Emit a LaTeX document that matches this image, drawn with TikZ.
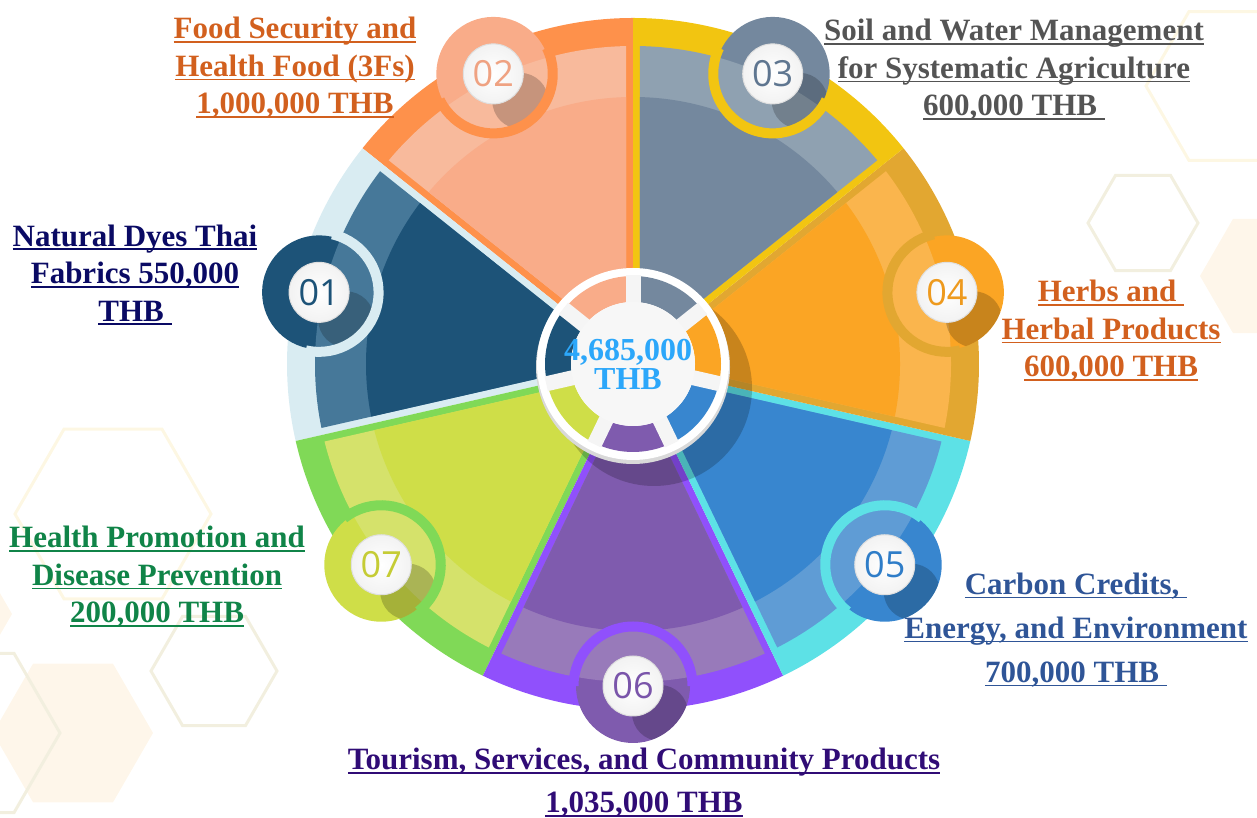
\documentclass[tikz,border=0pt]{standalone}
\usepackage{fontspec}
\setmainfont{Liberation Serif}
\newfontfamily\numfont{Open Sans}

% segment colours: border, band, fill, number
\definecolor{bd01}{RGB}{217,236,242}
\definecolor{bn01}{RGB}{70,120,153}
\definecolor{fl01}{RGB}{29,83,120}
\definecolor{tx01}{RGB}{29,83,120}
\definecolor{bd02}{RGB}{254,145,75}
\definecolor{bn02}{RGB}{248,186,156}
\definecolor{fl02}{RGB}{249,172,137}
\definecolor{tx02}{RGB}{239,162,130}
\definecolor{bd03}{RGB}{242,197,17}
\definecolor{bn03}{RGB}{143,161,177}
\definecolor{fl03}{RGB}{116,136,158}
\definecolor{tx03}{RGB}{95,118,144}
\definecolor{bd04}{RGB}{226,167,49}
\definecolor{bn04}{RGB}{250,181,77}
\definecolor{fl04}{RGB}{251,165,36}
\definecolor{tx04}{RGB}{238,154,30}
\definecolor{bd05}{RGB}{93,225,230}
\definecolor{bn05}{RGB}{95,156,213}
\definecolor{fl05}{RGB}{56,134,207}
\definecolor{tx05}{RGB}{47,125,200}
\definecolor{bd06}{RGB}{144,80,252}
\definecolor{bn06}{RGB}{152,122,186}
\definecolor{fl06}{RGB}{127,91,174}
\definecolor{tx06}{RGB}{122,85,170}
\definecolor{bd07}{RGB}{128,217,87}
\definecolor{bn07}{RGB}{213,226,107}
\definecolor{fl07}{RGB}{207,222,72}
\definecolor{tx07}{RGB}{197,204,53}

% label colours
\definecolor{labor}{RGB}{210,96,30}
\definecolor{labgray}{RGB}{84,84,84}
\definecolor{labnavy}{RGB}{10,10,100}
\definecolor{labgreen}{RGB}{16,132,72}
\definecolor{labblue}{RGB}{47,85,151}
\definecolor{labpurple}{RGB}{48,12,118}
\definecolor{totalblue}{RGB}{44,167,250}

% background
\definecolor{hexyel}{RGB}{253,247,227}
\definecolor{hexgray}{RGB}{242,239,223}
\definecolor{hexfill}{RGB}{254,246,234}

\newcommand\ulx[1]{\setbox0\hbox{#1}\rlap{\rule[-4pt]{\wd0}{1.8pt}}\box0}

\tikzset{
  budget/.style={font=\bfseries\fontsize{31}{37.5}\selectfont, align=center, inner sep=0},
  numdisc/.style={circle, inner color=white, outer color=gray!10, draw=gray!25, line width=1,
    minimum size=60, inner sep=0, font=\numfont\fontsize{36}{36}\selectfont},
  hexa/.style={draw=hexyel, line width=3},
  hexb/.style={draw=hexgray, line width=3},
  hexc/.style={fill=hexfill},
}

\begin{document}
\begin{tikzpicture}[x=1pt,y=1pt]
\useasboundingbox (0,0) rectangle (1257,818);
\clip (0,0) rectangle (1257,818);

% background hexagons
\foreach \x/\y/\r/\s in {1232/732/86/hexa, 1143/595/55/hexb, 1266/542/66/hexc,
    113/304/98/hexa, 214/147/63/hexb, 73/85/80/hexc, -32/85/92/hexb, -20/204/32/hexc}
  \path[\s] (\x,\y) +(0:\r) -- +(60:\r) -- +(120:\r) -- +(180:\r) -- +(240:\r) -- +(300:\r) -- cycle;

\begin{scope}[shift={(633,454)}]
% wedges
\foreach \a/\n in {115.714/02,167.143/01,218.571/07,270/06,321.429/05,12.857/04,64.286/03}{
  \fill[bd\n] (0,0) -- (\a-25.714:346) arc[start angle=\a-25.714,end angle=\a+25.714,radius=346] -- cycle;
  \begin{scope}
    \clip (\a:16) -- +(\a-25.714:600) -- +(\a:700) -- +(\a+25.714:600) -- cycle;
    \fill[bn\n] (0,0) circle[radius=318];
    \fill[fl\n] (0,0) circle[radius=267];
  \end{scope}
}

% hub shadow
\fill[black,opacity=0.2] (21,-24) circle[radius=98];

% badges
\foreach \a/\n in {115.714/02,167.143/01,218.571/07,270/06,321.429/05,12.857/04,64.286/03}{
  \begin{scope}[shift={(\a:322)}]
    \fill[fl\n] (0,0) circle[radius=57];
    \begin{scope}
      \clip (0,0) circle[radius=57];
      \fill[bn\n,even odd rule] (\a+180:322) circle[radius=318] circle[radius=267];
      \fill[black,opacity=0.2] (27,-27) circle[radius=28];
    \end{scope}
    \draw[bd\n,line width=10] (\a+90:59.5) arc[start angle=\a+90,end angle=\a+270,radius=59.5];
    \node[numdisc,text=tx\n] (num\n) at (0,0) {\n};
  \end{scope}
}

% hub
\fill[gray!30] (0,-3) circle[radius=97];
\fill[white] (0,0) circle[radius=96];
\foreach \a/\n in {115.714/02,167.143/01,218.571/07,270/06,321.429/05,12.857/04,64.286/03}
  \fill[fl\n] (\a-25.714:62) arc[start angle=\a-25.714,end angle=\a+25.714,radius=62]
    -- (\a+25.714:88) arc[start angle=\a+25.714,end angle=\a-25.714,radius=88] -- cycle;
\foreach \a in {90,141.429,192.857,244.286,295.714,347.143,38.571}
  \draw[white!96!black,line width=15] (0,0) -- (\a:89);
\fill[white!97!black] (0,0) circle[radius=62];
\node[font=\bfseries\fontsize{32}{29}\selectfont, text=totalblue, align=center, inner sep=0]
  (total) at (-5,0) {4,685,000\\THB};
\end{scope}

% labels
\node[budget,text=labnavy] (lab01) at (135,543) {\ulx{Natural Dyes Thai}\\\ulx{Fabrics 550,000}\\\ulx{THB\ }};
\node[budget,text=labor] (lab02) at (295,750) {\ulx{Food Security and}\\\ulx{Health Food (3Fs)}\\\ulx{1,000,000 THB}};
\node[budget,text=labgray] (lab03) at (1014,748) {\ulx{Soil and Water Management}\\\ulx{for Systematic Agriculture}\\\ulx{600,000 THB\ }};
\node[budget,text=labor] (lab04) at (1111,487) {\ulx{Herbs and\ }\\\ulx{Herbal Products}\\\ulx{600,000 THB}};
\node[budget,text=labblue,font=\bfseries\fontsize{31}{44}\selectfont] (lab05) at (1076,188) {\ulx{Carbon Credits,\ }\\\ulx{Energy, and Environment}\\\ulx{700,000 THB\ }};
\node[budget,text=labpurple,font=\bfseries\fontsize{31}{43}\selectfont] (lab06) at (644,35) {\ulx{Tourism, Services, and Community Products}\\\ulx{1,035,000 THB}};
\node[budget,text=labgreen] (lab07) at (157,241) {\ulx{Health Promotion and}\\\ulx{Disease Prevention}\\\ulx{200,000 THB}};

\end{tikzpicture}
\end{document}
